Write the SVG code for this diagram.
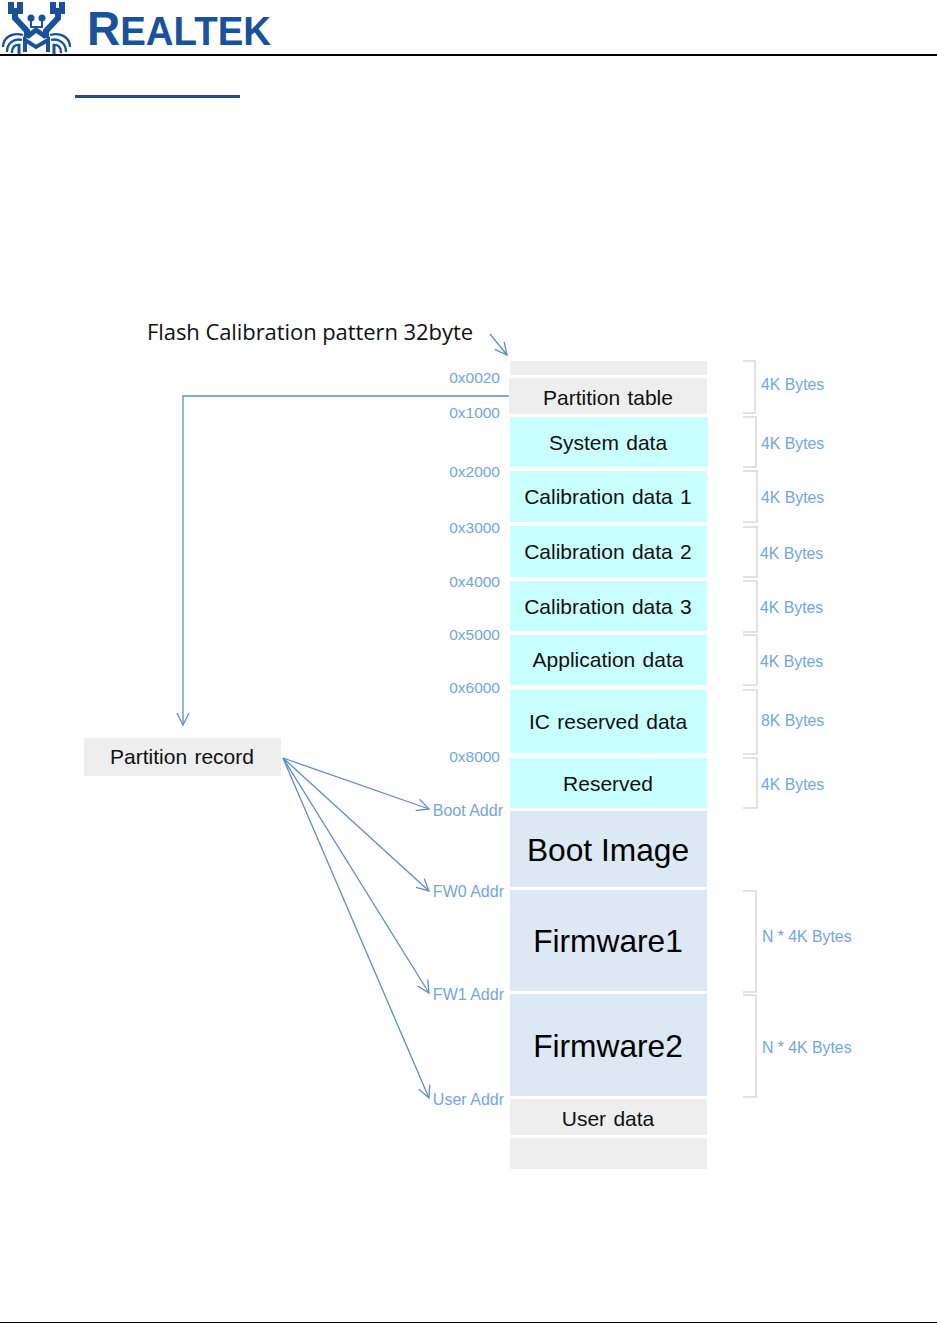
<svg xmlns="http://www.w3.org/2000/svg" width="937" height="1323" viewBox="0 0 937 1323">
<defs>
<marker id="arrow" markerUnits="userSpaceOnUse" markerWidth="16" markerHeight="16" refX="13" refY="7" orient="auto" viewBox="0 0 16 14"><path d="M1 1 L13 7 L1 13" fill="none" stroke="#5f8bcb" stroke-width="1.3"/></marker>
</defs>
<style>
text{font-family:"Liberation Sans",Arial,sans-serif}
.grey{fill:#eeeeee}.cyan{fill:#c9ffff}.blue{fill:#dde8f5}
.label{font-size:21px;fill:#111;text-anchor:middle;word-spacing:1.5px}
.big{font-size:31.7px;fill:#000;text-anchor:middle}
.addr{font-size:15.5px;fill:#74a5e0;text-anchor:end}
.tag{font-size:16px;fill:#74a5e0;text-anchor:end}
.size{font-size:15.8px;fill:#74a5e0}
.bracket{fill:none;stroke:#d9d9d9;stroke-width:1.5}
.conn{fill:none;stroke:#5f8bcb;stroke-width:1.3;marker-end:url(#arrow)}
.logo{fill:none;stroke:#19519c}
</style>
<rect width="937" height="1323" fill="#fff"/>
<g id="header">
<g class="logo">
<path d="M11 2V11H20V2M15 11V18L27 31V38" stroke-width="6"/>
<path d="M53 2V11H62V2M58 11V18L46 31V38" stroke-width="6"/>
<path d="M27 37L36 30L46 37" stroke-width="5"/>
<path d="M31 18V27H42V18" stroke-width="2"/>
<path d="M25 52V40L36 47L48 40V52" stroke-width="4"/>
<path d="M19 54V44M54 54V44" stroke-width="3"/>
<path d="M3 47C3 37 13 32 23 35M7 52C7 43 14 38 22 40M12 53C12 47 15 44 20 45" stroke-width="2.3"/>
<path d="M70 47C70 37 60 32 50 35M66 52C66 43 59 38 51 40M61 53C61 47 58 44 53 45" stroke-width="2.3"/>
</g>
<circle cx="31" cy="18" r="3.5" fill="#19519c"/><circle cx="42" cy="18" r="3.5" fill="#19519c"/>
<text x="87" y="45" fill="#19519c" font-weight="700" font-size="48" textLength="184" lengthAdjust="spacingAndGlyphs">R<tspan font-size="40">EALTEK</tspan></text>
<rect x="0" y="54" width="937" height="2" fill="#000"/>
<rect x="75" y="95" width="165" height="3" fill="#1f4e8c"/>
<rect x="0" y="1322" width="937" height="1" fill="#000"/>
</g>
<g id="connectors">
<path class="conn" d="M510 396H183V725"/>
<path class="conn" d="M490 334L507 355"/>
<path class="conn" d="M283 758L429 809"/>
<path class="conn" d="M283 758L429 891"/>
<path class="conn" d="M283 758L429 993"/>
<path class="conn" d="M283 758L429 1098"/>
</g>
<g id="brackets">
<path class="bracket" d="M743 361H755V413H743"/>
<path class="bracket" d="M743 417H756V467H743"/>
<path class="bracket" d="M743 471H757V522H743"/>
<path class="bracket" d="M743 527H757V577H743"/>
<path class="bracket" d="M743 581H757V632H743"/>
<path class="bracket" d="M743 635H757V685H743"/>
<path class="bracket" d="M743 690H757V754H743"/>
<path class="bracket" d="M743 758H757V808H743"/>
<path class="bracket" d="M743 891H756V992H743"/>
<path class="bracket" d="M743 995H756V1097H743"/>
</g>
<g id="flash-caption"><text x="147" y="340" font-size="22" fill="#111" style="font-family:'Open Sans',sans-serif" textLength="326">Flash Calibration pattern 32byte</text></g>
<g id="node-pattern"><rect class="grey" x="510" y="361" width="197" height="14"/></g>
<g id="node-partition-table"><rect class="grey" x="509" y="378" width="198" height="36"/><text class="label" x="608" y="405">Partition table</text></g>
<g id="node-system-data"><rect class="cyan" x="510" y="417" width="198" height="50"/><text class="label" x="608" y="450">System data</text></g>
<g id="node-cal1"><rect class="cyan" x="510" y="471" width="197" height="51"/><text class="label" x="608" y="504">Calibration data 1</text></g>
<g id="node-cal2"><rect class="cyan" x="510" y="526" width="197" height="51"/><text class="label" x="608" y="559">Calibration data 2</text></g>
<g id="node-cal3"><rect class="cyan" x="510" y="581" width="197" height="50"/><text class="label" x="608" y="614">Calibration data 3</text></g>
<g id="node-app"><rect class="cyan" x="510" y="635" width="197" height="50"/><text class="label" x="608" y="667">Application data</text></g>
<g id="node-ic"><rect class="cyan" x="510" y="690" width="197" height="63"/><text class="label" x="608" y="729">IC reserved data</text></g>
<g id="node-reserved"><rect class="cyan" x="510" y="758" width="197" height="50"/><text class="label" x="608" y="791">Reserved</text></g>
<g id="node-boot"><rect class="blue" x="510" y="811" width="197" height="76"/><text class="big" x="608" y="861">Boot Image</text></g>
<g id="node-fw1"><rect class="blue" x="510" y="890" width="197" height="101"/><text class="big" x="608" y="952">Firmware1</text></g>
<g id="node-fw2"><rect class="blue" x="510" y="994" width="197" height="102"/><text class="big" x="608" y="1057">Firmware2</text></g>
<g id="node-user"><rect class="grey" x="510" y="1099" width="197" height="36"/><text class="label" x="608" y="1126">User data</text></g>
<g id="node-end"><rect class="grey" x="510" y="1138" width="197" height="31"/></g>
<g id="node-partition-record"><rect class="grey" x="84" y="738" width="197" height="38"/><text class="label" x="182" y="764">Partition record</text></g>
<g id="addresses">
<text class="addr" x="500" y="383">0x0020</text>
<text class="addr" x="500" y="418">0x1000</text>
<text class="addr" x="500" y="477">0x2000</text>
<text class="addr" x="500" y="533">0x3000</text>
<text class="addr" x="500" y="587">0x4000</text>
<text class="addr" x="500" y="640">0x5000</text>
<text class="addr" x="500" y="693">0x6000</text>
<text class="addr" x="500" y="762">0x8000</text>
<text class="tag" x="503" y="816">Boot Addr</text>
<text class="tag" x="504" y="897">FW0 Addr</text>
<text class="tag" x="504" y="1000">FW1 Addr</text>
<text class="tag" x="504" y="1105">User Addr</text>
</g>
<g id="sizes">
<text class="size" x="761" y="390">4K Bytes</text>
<text class="size" x="761" y="449">4K Bytes</text>
<text class="size" x="761" y="503">4K Bytes</text>
<text class="size" x="760" y="559">4K Bytes</text>
<text class="size" x="760" y="613">4K Bytes</text>
<text class="size" x="760" y="667">4K Bytes</text>
<text class="size" x="761" y="726">8K Bytes</text>
<text class="size" x="761" y="790">4K Bytes</text>
<text class="size" x="762" y="942">N * 4K Bytes</text>
<text class="size" x="762" y="1053">N * 4K Bytes</text>
</g>
</svg>
